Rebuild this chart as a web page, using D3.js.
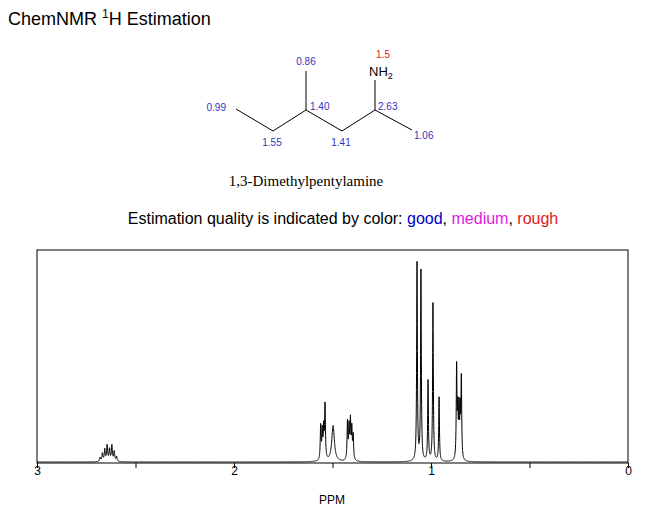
<!DOCTYPE html><html><head><script src="https://cdn.jsdelivr.net/npm/d3@7"></script>
<style>body{margin:0;background:#fff}</style></head><body><svg id="c" width="671" height="520"></svg><script>
const peakPpm=[2.680,2.668,2.656,2.644,2.632,2.620,2.608,2.596,1.560,1.552,1.545,1.538,1.497,1.424,1.416,1.409,1.402,1.395,1.071,1.051,1.015,0.990,0.959,0.870,0.864,0.858,0.852,0.846];
const peakHeight=[4,8,12,16,12,16,10,5,34,28,30,54,36,38,32,38,30,24,198,190,80,158,64,92,46,48,46,80];
const peakWidth=[0.003,0.003,0.003,0.003,0.003,0.003,0.003,0.003,0.0025,0.0025,0.0025,0.0025,0.008,0.0025,0.0025,0.0025,0.0025,0.0025,0.0022,0.0022,0.0022,0.0022,0.0022,0.0022,0.0022,0.0022,0.0022,0.0022];
const xTicks=[3,2,1,0];
const svg=d3.select("#c");const F="Arial, Liberation Sans, sans-serif";
const x=d3.scaleLinear().domain([3,0]).range([37,628]);
const y=d3.scaleLinear().domain([0,210]).range([462,252]);
const pts=d3.range(0,3.0001,0.0005).map(p=>[p,peakPpm.reduce((s,c,i)=>{const w=peakWidth[i];return s+peakHeight[i]*w*w/((p-c)*(p-c)+w*w);},0)]);
svg.append("text").attr("x",8).attr("y",25).attr("font-family",F).attr("font-size",18).html('ChemNMR <tspan dy="-7" font-size="12">1</tspan><tspan dy="7">H Estimation</tspan>');
const bonds=[[236,109,273,131],[273,131,306,110],[306,110,306,71],[306,110,342,131],[342,131,375,110],[375,110,375,80],[375,110,412,130]];
svg.selectAll("line.b").data(bonds).join("line").attr("x1",d=>d[0]).attr("y1",d=>d[1]).attr("x2",d=>d[2]).attr("y2",d=>d[3]).attr("stroke","#000");
const shifts=[["0.99",226,111,"end"],["1.55",272,146,"middle"],["0.86",306,65,"middle"],["1.40",310,110,"start"],["1.41",341,146,"middle"],["2.63",378,110,"start"],["1.06",414,139,"start"]];
svg.selectAll("text.s").data(shifts).join("text").attr("x",d=>d[1]).attr("y",d=>d[2]).attr("text-anchor",d=>d[3]).attr("font-family",F).attr("font-size",10).attr("fill","#3333bb").text(d=>d[0]);
svg.append("text").attr("x",383).attr("y",58).attr("text-anchor","middle").attr("font-family",F).attr("font-size",10).attr("fill","#e02020").text("1.5");
svg.append("text").attr("x",369).attr("y",76).attr("font-family",F).attr("font-size",13).html('NH<tspan dy="3" font-size="9">2</tspan>');
svg.append("text").attr("x",306).attr("y",186).attr("text-anchor","middle").attr("font-family","Liberation Serif, Times New Roman, serif").attr("font-size",15).text("1,3-Dimethylpentylamine");
svg.append("text").attr("x",343).attr("y",224).attr("text-anchor","middle").attr("font-family",F).attr("font-size",16).html('Estimation quality is indicated by color: <tspan fill="#0000cc">good</tspan>, <tspan fill="#e020e0">medium</tspan>, <tspan fill="#e02020">rough</tspan>');
svg.append("rect").attr("x",37).attr("y",250).attr("width",591).attr("height",213).attr("fill","none").attr("stroke","#000");
const ax=svg.append("g").attr("transform","translate(0,463)").call(d3.axisBottom(x).tickValues(d3.range(0,3.01,0.5)).tickSize(5).tickFormat(d=>xTicks.includes(d)?d:""));
ax.select(".domain").remove();ax.selectAll("text").attr("font-family",F).attr("font-size",12).attr("dy","0.3em");
svg.append("text").attr("x",332).attr("y",504).attr("text-anchor","middle").attr("font-family",F).attr("font-size",12).text("PPM");
svg.append("path").datum(pts).attr("fill","none").attr("stroke","#000").attr("stroke-width",1).attr("d",d3.line().x(d=>x(d[0])).y(d=>y(d[1])));
</script></body></html>
